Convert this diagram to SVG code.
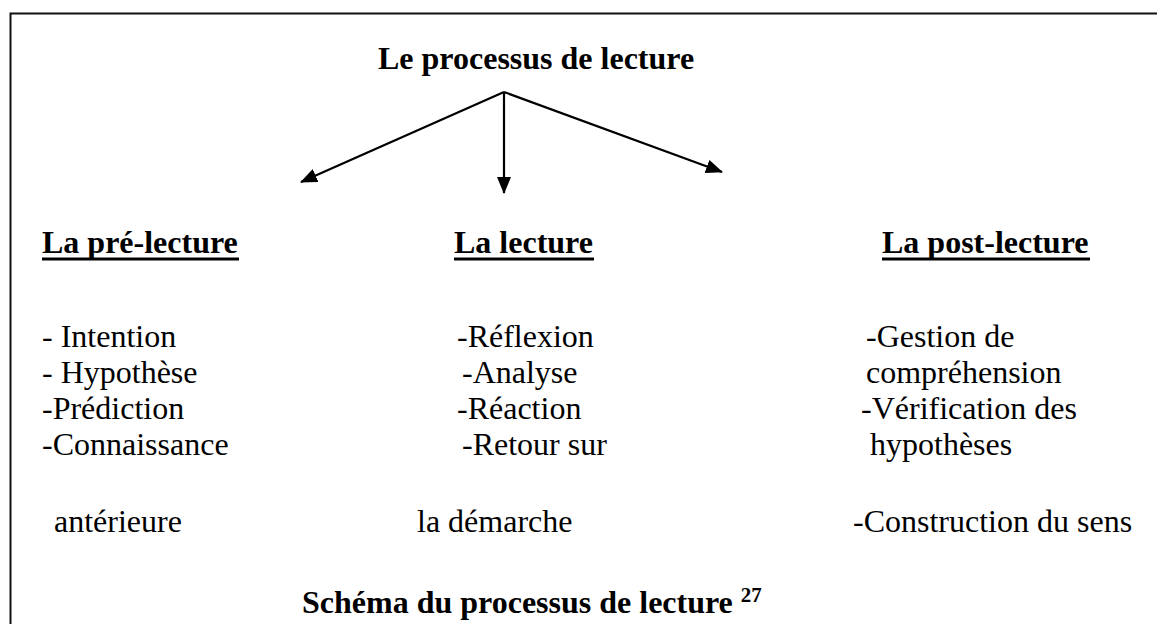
<svg xmlns="http://www.w3.org/2000/svg" width="1157" height="624" viewBox="0 0 1157 624">
<style>
text{font-family:"Liberation Serif","Times New Roman",serif;fill:#000}
.b{font-weight:bold;font-size:32px}
.r{font-size:32px}
.sup{font-weight:bold;font-size:21px}
.ul{stroke:#000;stroke-width:3}
.conn{stroke:#000;stroke-width:2.2;fill:none}
</style>
<defs>
<marker id="ah" markerUnits="userSpaceOnUse" markerWidth="18" markerHeight="14" refX="16" refY="7" orient="auto">
<path d="M0,0 L17,7 L0,14 z" fill="#000"/>
</marker>
</defs>
<rect width="1157" height="624" fill="#fff"/>
<path d="M10.5,630 V13.5 H1165" fill="none" stroke="#111" stroke-width="2"/>
<g id="title"><text class="b" x="378" y="69">Le processus de lecture</text></g>
<g id="connectors">
<line class="conn" x1="504" y1="92" x2="301" y2="182" marker-end="url(#ah)"/>
<line class="conn" x1="504" y1="92" x2="504" y2="193" marker-end="url(#ah)"/>
<line class="conn" x1="504" y1="92" x2="722" y2="172" marker-end="url(#ah)"/>
</g>
<g id="pre-lecture">
<text class="b" x="42" y="253">La pré-lecture</text>
<line class="ul" x1="42" y1="259" x2="239" y2="259"/>
<text class="r" x="42" y="347">- Intention</text>
<text class="r" x="42" y="383">- Hypothèse</text>
<text class="r" x="42" y="419">-Prédiction</text>
<text class="r" x="42" y="455">-Connaissance</text>
<text class="r" x="54" y="532">antérieure</text>
</g>
<g id="lecture">
<text class="b" x="454" y="253">La lecture</text>
<line class="ul" x1="454" y1="259" x2="594" y2="259"/>
<text class="r" x="457" y="347">-Réflexion</text>
<text class="r" x="462" y="383">-Analyse</text>
<text class="r" x="457" y="419">-Réaction</text>
<text class="r" x="462" y="455">-Retour sur</text>
<text class="r" x="417" y="532">la démarche</text>
</g>
<g id="post-lecture">
<text class="b" x="882" y="253">La post-lecture</text>
<line class="ul" x1="882" y1="259" x2="1090" y2="259"/>
<text class="r" x="866" y="347">-Gestion de</text>
<text class="r" x="866" y="383">compréhension</text>
<text class="r" x="861" y="419">-Vérification des</text>
<text class="r" x="870" y="455">hypothèses</text>
<text class="r" x="853" y="532">-Construction du sens</text>
</g>
<g id="caption">
<text class="b" x="302" y="613">Schéma du processus de lecture <tspan class="sup" dy="-11">27</tspan></text>
</g>
</svg>
